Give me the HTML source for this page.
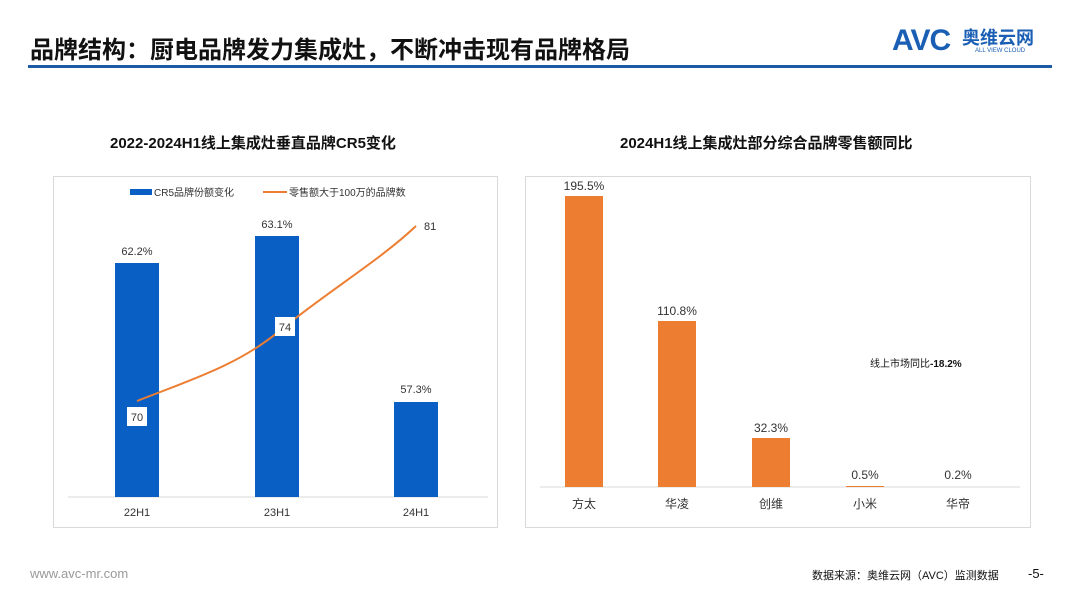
<!DOCTYPE html>
<html><head><meta charset="utf-8"><style>
body{margin:0;width:1080px;height:608px;background:#fff;font-family:"Liberation Sans","Noto Sans CJK SC",sans-serif;position:relative;overflow:hidden}
.a{position:absolute;white-space:nowrap}
</style></head><body>
<div class="a" style="left:30px;top:30px;font-size:24px;font-weight:bold;color:#111">品牌结构：厨电品牌发力集成灶，不断冲击现有品牌格局</div>
<div class="a" style="left:892px;top:24px;font-size:30px;font-weight:900;color:#1a5fb4;letter-spacing:-1px">AVC</div>
<div class="a" style="left:962px;top:24px;font-size:18px;font-weight:bold;color:#1a5fb4">奥维云网</div>
<div class="a" style="left:975px;top:48px;font-size:6px;color:#1a5fb4">ALL VIEW CLOUD</div>
<div class="a" style="left:28px;top:65px;width:1024px;height:3px;background:#1d5aa6"></div>
<div class="a" style="left:110px;top:132px;font-size:15px;font-weight:bold;color:#111">2022-2024H1线上集成灶垂直品牌CR5变化</div>
<div class="a" style="left:620px;top:132px;font-size:15px;font-weight:bold;color:#111">2024H1线上集成灶部分综合品牌零售额同比</div>
<svg class="a" style="left:0;top:0" width="1080" height="608">
<rect x="53.5" y="176.5" width="444" height="351" fill="none" stroke="#d9d9d9"/>
<rect x="525.5" y="176.5" width="505" height="351" fill="none" stroke="#d9d9d9"/>
<line x1="68" y1="497" x2="488" y2="497" stroke="#d9d9d9"/>
<rect x="130" y="189" width="22" height="6" fill="#0a5fc4"/>
<text x="154" y="196" font-size="10" fill="#333">CR5品牌份额变化</text>
<line x1="263" y1="192" x2="287" y2="192" stroke="#ed7d31" stroke-width="2"/>
<text x="289" y="196" font-size="10" fill="#333">零售额大于100万的品牌数</text>
<rect x="115" y="263" width="44" height="234" fill="#0a5fc4"/>
<rect x="255" y="236" width="44" height="261" fill="#0a5fc4"/>
<rect x="394" y="402" width="44" height="95" fill="#0a5fc4"/>
<g font-size="11" fill="#333" text-anchor="middle">
<text x="137" y="255">62.2%</text><text x="277" y="228">63.1%</text><text x="416" y="393">57.3%</text>
<text x="137" y="516">22H1</text><text x="277" y="516">23H1</text><text x="416" y="516">24H1</text>
</g>
<path d="M137,401 C190,380 240,365 283,328 C330,290 380,260 416,226" fill="none" stroke="#ed7d31" stroke-width="2"/>
<rect x="127" y="407" width="20" height="19" fill="#fff"/><text x="137" y="421" font-size="11" text-anchor="middle" fill="#333">70</text>
<rect x="275" y="317" width="20" height="19" fill="#fff"/><text x="285" y="331" font-size="11" text-anchor="middle" fill="#333">74</text>
<text x="424" y="230" font-size="11" fill="#333">81</text>
<line x1="540" y1="487" x2="1020" y2="487" stroke="#d9d9d9"/>
<rect x="565" y="196" width="38" height="291" fill="#ed7d31"/>
<rect x="658" y="321" width="38" height="166" fill="#ed7d31"/>
<rect x="752" y="438" width="38" height="49" fill="#ed7d31"/>
<rect x="846" y="486" width="38" height="1" fill="#ed7d31"/>
<g font-size="12" fill="#333" text-anchor="middle">
<text x="584" y="190">195.5%</text><text x="677" y="315">110.8%</text><text x="771" y="432">32.3%</text><text x="865" y="479">0.5%</text><text x="958" y="479">0.2%</text>
<text x="584" y="508">方太</text><text x="677" y="508">华凌</text><text x="771" y="508">创维</text><text x="865" y="508">小米</text><text x="958" y="508">华帝</text>
</g>
<text x="870" y="367" font-size="10" fill="#111">线上市场同比<tspan font-weight="bold">-18.2%</tspan></text>
</svg>
<div class="a" style="left:30px;top:566px;font-size:13px;color:#999">www.avc-mr.com</div>
<div class="a" style="left:812px;top:567px;font-size:11px;color:#111">数据来源：奥维云网（AVC）监测数据</div>
<div class="a" style="left:1028px;top:566px;font-size:13px;color:#111">-5-</div>
</body></html>
